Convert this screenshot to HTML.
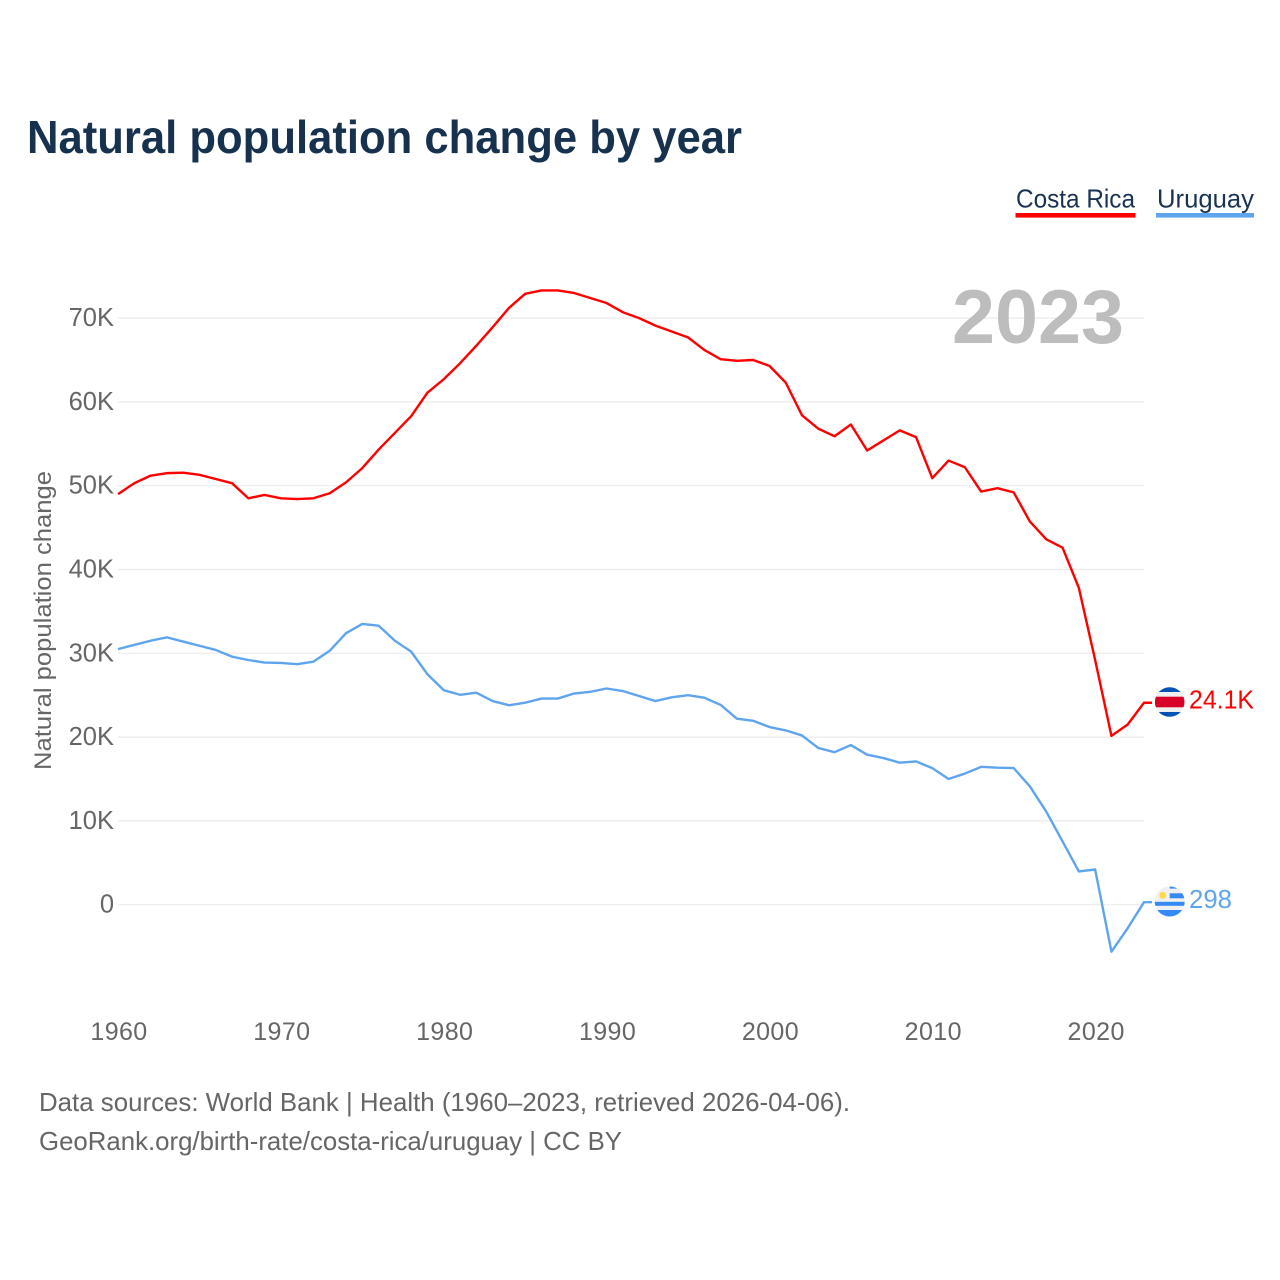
<!DOCTYPE html>
<html lang="en">
<head>
<meta charset="utf-8">
<title>Natural population change by year</title>
<style>
html,body{margin:0;padding:0;background:#fff;width:1280px;height:1280px;overflow:hidden}
svg{display:block}
text{font-family:"Liberation Sans",sans-serif}
</style>
</head>
<body>
<svg id="chart" width="1280" height="1280" viewBox="0 0 1280 1280" xmlns="http://www.w3.org/2000/svg">
  <rect width="1280" height="1280" fill="#fff"/>
  <text x="27" y="153" font-size="46" font-weight="700" fill="#17324f" textLength="715" lengthAdjust="spacingAndGlyphs">Natural population change by year</text>

  <g>
    <g>
      <text x="1016" y="207.5" font-size="26" fill="#1a3352" textLength="119" lengthAdjust="spacingAndGlyphs">Costa Rica</text>
      <rect x="1015.5" y="213" width="120" height="4.6" fill="#ff0000"/>
    </g>
    <g>
      <text x="1157" y="207.5" font-size="26" fill="#1a3352" textLength="97" lengthAdjust="spacingAndGlyphs">Uruguay</text>
      <rect x="1156" y="213" width="98" height="4.6" fill="#5fa5ee"/>
    </g>
  </g>

  <g id="grid"></g>
  <g id="yticks"></g>
  <g id="xticks"></g>

  <text x="1124" y="343" text-anchor="end" font-size="76" font-weight="700" fill="#bdbdbd" textLength="172" lengthAdjust="spacingAndGlyphs">2023</text>
  <text transform="translate(51 770) rotate(-90)" x="0" y="0" font-size="24" fill="#666666" textLength="299" lengthAdjust="spacingAndGlyphs">Natural population change</text>

  <g id="series"></g>

  <defs>
    <clipPath id="cr-clip"><circle cx="1169.7" cy="702" r="14.8"/></clipPath>
    <clipPath id="uy-clip"><circle cx="1169.7" cy="901.5" r="15"/></clipPath>
  </defs>
  <g clip-path="url(#cr-clip)">
    <rect x="1154" y="687" width="32" height="30" fill="#f0f0f0"/>
    <rect x="1154" y="687" width="32" height="5" fill="#0052b4"/>
    <rect x="1154" y="712" width="32" height="5" fill="#0052b4"/>
    <rect x="1154" y="696.7" width="32" height="10.6" fill="#d80027"/>
  </g>
  <g clip-path="url(#uy-clip)">
    <rect x="1154" y="886" width="32" height="31" fill="#f0f0f0"/>
    <rect x="1169.7" y="886" width="16" height="2.6" fill="#338af3"/>
    <rect x="1169.7" y="893.3" width="16" height="5" fill="#338af3"/>
    <rect x="1154" y="901.8" width="32" height="4" fill="#338af3"/>
    <rect x="1154" y="910" width="32" height="7" fill="#338af3"/>
    <circle cx="1162.7" cy="895.3" r="3.4" fill="#ffda44"/>
  </g>
  <text id="label-cr" x="1189" y="708.5" font-size="25.5" fill="#ff0000" textLength="65" lengthAdjust="spacingAndGlyphs">24.1K</text>
  <text id="label-uy" x="1189" y="908" font-size="25.5" fill="#5fa5ee" textLength="43" lengthAdjust="spacingAndGlyphs">298</text>

  <g font-size="26" fill="#666666">
    <text x="39" y="1111" textLength="811" lengthAdjust="spacingAndGlyphs">Data sources: World Bank | Health (1960–2023, retrieved 2026-04-06).</text>
    <text x="39" y="1150" textLength="583" lengthAdjust="spacingAndGlyphs">GeoRank.org/birth-rate/costa-rica/uruguay | CC BY</text>
  </g>
</svg>
<script>
const years = [1960,1961,1962,1963,1964,1965,1966,1967,1968,1969,1970,1971,1972,1973,1974,1975,1976,1977,1978,1979,1980,1981,1982,1983,1984,1985,1986,1987,1988,1989,1990,1991,1992,1993,1994,1995,1996,1997,1998,1999,2000,2001,2002,2003,2004,2005,2006,2007,2008,2009,2010,2011,2012,2013,2014,2015,2016,2017,2018,2019,2020,2021,2022,2023];
const costaRica = [49000,50300,51200,51500,51550,51300,50800,50300,48500,48900,48500,48400,48500,49100,50400,52100,54300,56300,58300,61100,62700,64600,66700,68900,71200,72900,73300,73300,73000,72400,71800,70700,70000,69100,68400,67700,66200,65100,64900,65000,64300,62300,58400,56800,55900,57300,54200,55400,56600,55800,50900,53000,52200,49300,49700,49200,45700,43600,42600,37800,29200,20150,21500,24100];
const uruguay = [30500,31000,31500,31900,31400,30900,30400,29600,29200,28900,28850,28700,29000,30300,32400,33500,33300,31500,30200,27500,25600,25050,25300,24300,23800,24100,24600,24600,25200,25400,25800,25500,24900,24300,24750,25000,24700,23850,22200,21950,21200,20800,20200,18700,18200,19050,17900,17500,16950,17100,16300,15000,15650,16450,16350,16300,14100,11100,7550,3970,4200,-5600,-2800,298];
const yTickValues = [0,10000,20000,30000,40000,50000,60000,70000];
const yTickLabels = ["0","10K","20K","30K","40K","50K","60K","70K"];
const xTickValues = [1960,1970,1980,1990,2000,2010,2020];

const SVG_NS = "http://www.w3.org/2000/svg";
const xLeft = 118, xRight = 1144, yZero = 904.7, pxPerUnit = 83.8 / 10000;
function xScale(year){ return xLeft + (year - years[0]) * (xRight - xLeft) / (years[years.length - 1] - years[0]); }
function yScale(value){ return yZero - value * pxPerUnit; }

const grid = document.getElementById("grid");
const yticks = document.getElementById("yticks");
const xticks = document.getElementById("xticks");
const seriesGroup = document.getElementById("series");

yTickValues.forEach(function(v, i){
  const line = document.createElementNS(SVG_NS, "line");
  
  
  line.setAttribute("x1", xLeft);
  line.setAttribute("x2", xRight);
  line.setAttribute("y1", yScale(v));
  line.setAttribute("y2", yScale(v));
  line.setAttribute("stroke", "#ebebeb");
  line.setAttribute("stroke-width", "1.2");
  grid.appendChild(line);

  const label = document.createElementNS(SVG_NS, "text");
  
  
  label.setAttribute("x", 114);
  label.setAttribute("y", yScale(v) + 8);
  label.setAttribute("text-anchor", "end");
  label.setAttribute("font-size", "25.5");
  label.setAttribute("fill", "#666666");
  label.textContent = yTickLabels[i];
  yticks.appendChild(label);
});

xTickValues.forEach(function(year){
  const label = document.createElementNS(SVG_NS, "text");
  
  
  label.setAttribute("x", xScale(year) + 1);
  label.setAttribute("y", 1040);
  label.setAttribute("text-anchor", "middle");
  label.setAttribute("font-size", "25");
  label.setAttribute("letter-spacing", "0.4");
  label.setAttribute("fill", "#666666");
  label.textContent = String(year);
  xticks.appendChild(label);
});

function buildPath(values){
  let d = "";
  values.forEach(function(v, i){
    d += (i ? "L" : "M") + xScale(years[i]).toFixed(2) + " " + yScale(v).toFixed(2);
  });
  const last = values[values.length - 1];
  return d + "L" + (xRight + 8) + " " + yScale(last).toFixed(2);
}

const costaRicaLine = document.createElementNS(SVG_NS, "path");


costaRicaLine.setAttribute("d", buildPath(costaRica));
costaRicaLine.setAttribute("fill", "none");
costaRicaLine.setAttribute("stroke", "#ff0000");
costaRicaLine.setAttribute("stroke-width", "2.4");
costaRicaLine.setAttribute("stroke-linejoin", "round");
seriesGroup.appendChild(costaRicaLine);

const uruguayLine = document.createElementNS(SVG_NS, "path");


uruguayLine.setAttribute("d", buildPath(uruguay));
uruguayLine.setAttribute("fill", "none");
uruguayLine.setAttribute("stroke", "#5fa5ee");
uruguayLine.setAttribute("stroke-width", "2.4");
uruguayLine.setAttribute("stroke-linejoin", "round");
seriesGroup.appendChild(uruguayLine);
</script>
</body>
</html>
